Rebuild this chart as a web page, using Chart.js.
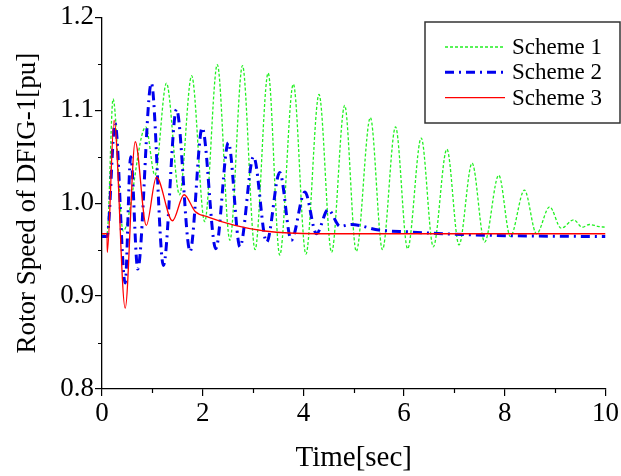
<!DOCTYPE html>
<html>
<head>
<meta charset="utf-8">
<script src="https://cdn.jsdelivr.net/npm/chart.js@4/dist/chart.umd.min.js"></script>
<style>
  html, body { margin: 0; padding: 0; background: #fff; }
  #wrap { width: 621px; height: 476px; }
</style>
</head>
<body>
<div id="wrap"><canvas id="c" width="621" height="476"></canvas></div>
<script>
const SERIF = '"Liberation Serif", "Times New Roman", serif';

// Scheme 1 (green, dotted) - peaks / troughs
const s1Time = [0, 0.1, 0.22, 0.42, 0.87, 1.05, 1.28, 1.54, 1.78, 2.04, 2.29, 2.54, 2.79, 3.04, 3.30, 3.53, 3.80, 4.05, 4.31, 4.56, 4.82, 5.05, 5.33, 5.57, 5.83, 6.07, 6.34, 6.58, 6.85, 7.09, 7.35, 7.60, 7.88, 8.11, 8.39, 8.63, 8.89, 9.12, 9.37, 9.54, 9.68, 9.85, 10];
const s1Speed = [0.967, 0.967, 1.112, 0.970, 1.082, 1.030, 1.129, 1.009, 1.137, 0.980, 1.149, 0.960, 1.148, 0.950, 1.140, 0.944, 1.128, 0.945, 1.117, 0.947, 1.105, 0.948, 1.092, 0.950, 1.082, 0.951, 1.070, 0.953, 1.058, 0.955, 1.043, 0.958, 1.030, 0.964, 1.014, 0.967, 0.996, 0.973, 0.982, 0.974, 0.977, 0.975, 0.974];

// Scheme 2 (blue, dash-dot)
const s2Time = [0, 0.1, 0.26, 0.46, 0.57, 0.71, 0.98, 1.22, 1.48, 1.75, 1.99, 2.26, 2.51, 2.74, 3.01, 3.27, 3.53, 3.76, 4.03, 4.26, 4.49, 4.73, 4.95, 5.5, 6.1, 6.8, 8.0, 10];
const s2Speed = [0.964, 0.964, 1.086, 0.914, 1.050, 0.929, 1.129, 0.933, 1.101, 0.948, 1.081, 0.951, 1.065, 0.953, 1.050, 0.958, 1.033, 0.960, 1.012, 0.967, 0.993, 0.975, 0.977, 0.971, 0.969, 0.967, 0.965, 0.964];

// Scheme 3 (red, solid)
const s3Time = [0, 0.1, 0.105, 0.24, 0.46, 0.66, 0.88, 1.08, 1.40, 1.63, 1.85, 2.11, 2.64, 3.23, 4.26, 6.0, 8.0, 10];
const s3Speed = [0.967, 0.967, 0.947, 1.089, 0.887, 1.066, 0.976, 1.028, 0.981, 1.009, 0.991, 0.985, 0.976, 0.970, 0.967, 0.967, 0.967, 0.967];

const seriesNames = ["Scheme 1", "Scheme 2", "Scheme 3"];
const xMinorTicks = [1, 3, 5, 7, 9];
const yMinorTicks = [0.85, 0.95, 1.05, 1.15];

const toPoints = (ts, vs) => ts.map((t, i) => ({ x: t, y: vs[i] }));

// short outward minor ticks on both axes
const minorTicks = {
  id: "minorTicks",
  afterDraw(chart) {
    const { ctx, scales: { x, y } } = chart;
    ctx.save();
    ctx.strokeStyle = "#000";
    ctx.lineWidth = 1.2;
    ctx.beginPath();
    xMinorTicks.forEach((v) => {
      const px = Math.round(x.getPixelForValue(v)) + 0.5;
      ctx.moveTo(px, x.top);
      ctx.lineTo(px, x.top + 4);
    });
    yMinorTicks.forEach((v) => {
      const py = Math.round(y.getPixelForValue(v)) + 0.5;
      ctx.moveTo(y.right, py);
      ctx.lineTo(y.right - 4, py);
    });
    ctx.stroke();
    ctx.restore();
  },
};

// boxed legend sitting in the upper right corner
const boxLegend = {
  id: "boxLegend",
  afterDraw(chart) {
    const ctx = chart.ctx;
    const left = 425, top = 22, right = 620, bottom = 123;
    ctx.save();
    ctx.fillStyle = "#fff";
    ctx.fillRect(left, top, right - left, bottom - top);
    ctx.strokeStyle = "#333";
    ctx.lineWidth = 1.5;
    ctx.strokeRect(left, top, right - left, bottom - top);
    ctx.font = "23px " + SERIF;
    ctx.textBaseline = "middle";
    ctx.fillStyle = "#000";
    chart.data.datasets.forEach((ds, i) => {
      const yy = 47 + i * 25.3;
      ctx.beginPath();
      ctx.strokeStyle = ds.borderColor;
      ctx.lineWidth = ds.borderWidth;
      ctx.setLineDash(ds.borderDash || []);
      ctx.moveTo(445, yy);
      ctx.lineTo(505, yy);
      ctx.stroke();
      ctx.setLineDash([]);
      ctx.fillText(ds.label, 512, yy + 1);
    });
    ctx.restore();
  },
};

new Chart(document.getElementById("c"), {
  type: "line",
  data: {
    datasets: [
      {
        label: seriesNames[0],
        data: toPoints(s1Time, s1Speed),
        borderColor: "#22f022",
        borderWidth: 1.3,
        borderDash: [3, 2],
        order: 3,
      },
      {
        label: seriesNames[1],
        data: toPoints(s2Time, s2Speed),
        borderColor: "#0000ee",
        borderWidth: 3,
        borderDash: [9, 5, 2, 5],
        order: 2,
      },
      {
        label: seriesNames[2],
        data: toPoints(s3Time, s3Speed),
        borderColor: "#ff0000",
        borderWidth: 1.3,
        order: 1,
      },
    ],
  },
  options: {
    responsive: false,
    animation: false,
    elements: {
      point: { radius: 0 },
      line: { cubicInterpolationMode: "monotone", fill: false },
    },
    layout: { padding: { left: 0, right: 15, top: 17, bottom: 0 } },
    plugins: { legend: { display: false }, tooltip: { enabled: false } },
    scales: {
      x: {
        type: "linear",
        min: 0,
        max: 10,
        ticks: { stepSize: 2, color: "#000", font: { family: SERIF, size: 27 }, padding: 2, maxRotation: 0 },
        grid: { drawOnChartArea: false, tickLength: 7, color: "#000", lineWidth: 1.2 },
        border: { color: "#000", width: 1.3 },
        title: {
          display: true,
          text: "Time[sec]",
          color: "#000",
          font: { family: SERIF, size: 29 },
          padding: { top: 0, bottom: 0 },
        },
        afterFit(s) { s.height = 87; },
      },
      y: {
        type: "linear",
        min: 0.8,
        max: 1.2,
        ticks: {
          stepSize: 0.1,
          color: "#000",
          font: { family: SERIF, size: 27 },
          padding: 1,
          callback: (v) => Number(v).toFixed(1),
        },
        grid: { drawOnChartArea: false, tickLength: 7, color: "#000", lineWidth: 1.2 },
        border: { color: "#000", width: 1.3 },
        title: {
          display: true,
          text: "Rotor Speed of DFIG-1[pu]",
          color: "#000",
          font: { family: SERIF, size: 27 },
          padding: { top: 12, bottom: 0 },
        },
        afterFit(s) { s.width = 102; },
      },
    },
  },
  plugins: [minorTicks, boxLegend],
});
</script>
</body>
</html>
